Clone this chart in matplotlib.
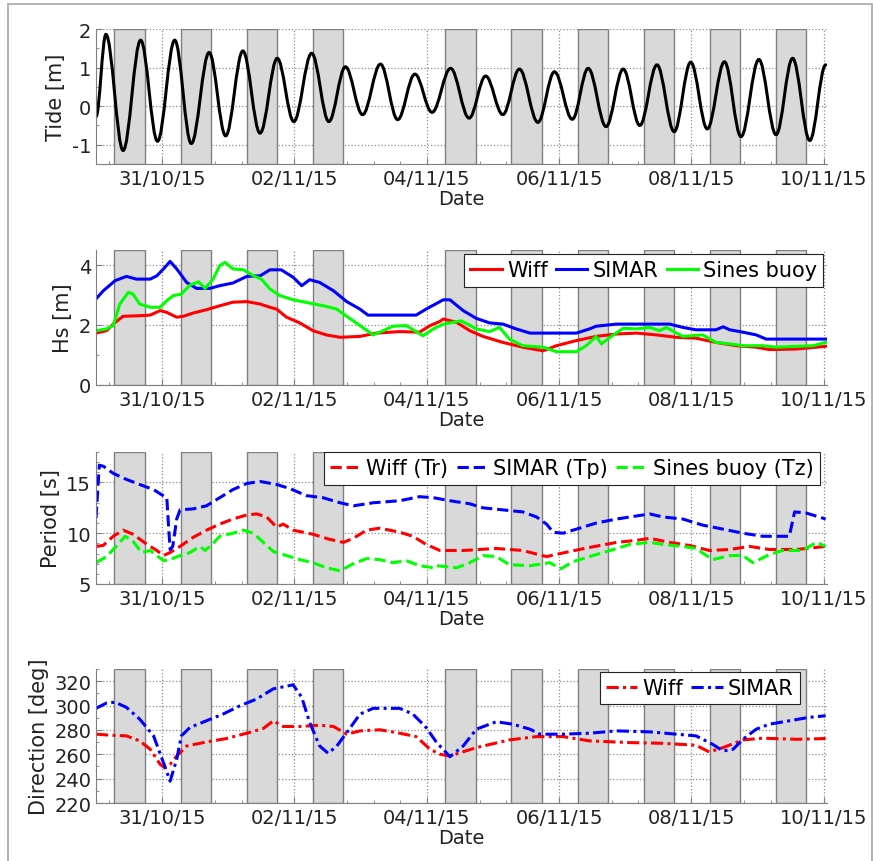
import numpy as np
import matplotlib
matplotlib.use("Agg")
import matplotlib.pyplot as plt
import matplotlib.dates as mdates
from matplotlib.path import Path
from matplotlib.patches import PathPatch, Rectangle
from datetime import datetime

# days since 30/10/2015 00:00
inicio = datetime(2015, 10, 30)

# daylight bands (no band on 03/11)
dias_banda = [0, 1, 2, 3, 5, 6, 7, 8, 9, 10]
amanecer_h = 6.7
atardecer_h = 17.75

# tide extrema (time [d], level [m])
t_marea = [0.00, 0.15, 0.41, 0.675, 0.93, 1.19, 1.44, 1.71, 1.96, 2.22, 2.48,
           2.74, 2.99, 3.26, 3.52, 3.77, 4.03, 4.30, 4.56, 4.82, 5.08, 5.36,
           5.64, 5.89, 6.15, 6.40, 6.68, 6.93, 7.20, 7.44, 7.71, 7.97, 8.22,
           8.48, 8.74, 8.99, 9.24, 9.50, 9.75, 10.02, 10.28, 10.53, 10.79, 11.03]
marea = [-0.27, 1.86, -1.15, 1.71, -0.91, 1.71, -0.97, 1.39, -0.77, 1.43, -0.70,
         1.24, -0.40, 1.37, -0.40, 1.02, -0.22, 1.09, -0.35, 0.83, -0.16, 0.98,
         -0.31, 0.78, -0.22, 0.96, -0.42, 0.89, -0.34, 0.98, -0.53, 0.96, -0.50,
         1.07, -0.66, 1.14, -0.59, 1.15, -0.79, 1.21, -0.74, 1.24, -0.89, 1.07]

# Hs
t_hs_wiff = [0.00, 0.16, 0.29, 0.41, 0.66, 0.82, 0.97, 1.07, 1.22, 1.32, 1.47,
             1.67, 1.87, 2.07, 2.28, 2.48, 2.63, 2.73, 2.88, 3.08, 3.28, 3.48,
             3.69, 3.99, 4.24, 4.59, 4.89, 5.05, 5.20, 5.25, 5.45, 5.65, 5.85,
             6.15, 6.45, 6.76, 6.96, 7.26, 7.56, 7.87, 8.17, 8.47, 8.77, 9.07,
             9.37, 9.68, 9.98, 10.18, 10.59, 11.03]
hs_wiff = [1.73, 1.81, 2.09, 2.29, 2.31, 2.33, 2.48, 2.42, 2.26, 2.29, 2.40,
           2.51, 2.64, 2.76, 2.78, 2.70, 2.59, 2.53, 2.26, 2.07, 1.81, 1.67,
           1.59, 1.62, 1.73, 1.78, 1.76, 1.98, 2.12, 2.20, 2.09, 1.81, 1.62,
           1.42, 1.26, 1.14, 1.31, 1.48, 1.62, 1.70, 1.73, 1.67, 1.59, 1.56,
           1.42, 1.31, 1.26, 1.18, 1.20, 1.29]

t_hs_simar = [0.00, 0.11, 0.29, 0.46, 0.61, 0.82, 0.92, 1.02, 1.12, 1.22, 1.37,
              1.52, 1.72, 1.87, 2.07, 2.28, 2.48, 2.63, 2.80, 2.98, 3.11, 3.23,
              3.38, 3.59, 3.79, 3.99, 4.11, 4.84, 4.99, 5.20, 5.25, 5.35, 5.55,
              5.75, 5.95, 6.15, 6.35, 6.56, 7.26, 7.46, 7.56, 7.87, 8.67, 8.87,
              9.07, 9.37, 9.48, 9.58, 9.78, 9.98, 10.13, 11.03]
hs_simar = [2.87, 3.14, 3.48, 3.62, 3.53, 3.53, 3.64, 3.87, 4.12, 3.87, 3.42,
            3.22, 3.22, 3.31, 3.40, 3.62, 3.64, 3.84, 3.84, 3.59, 3.31, 3.51,
            3.42, 3.14, 2.78, 2.53, 2.33, 2.33, 2.53, 2.78, 2.84, 2.84, 2.48,
            2.22, 2.07, 2.03, 1.87, 1.73, 1.73, 1.87, 1.96, 2.03, 2.03, 1.92,
            1.84, 1.84, 1.94, 1.84, 1.76, 1.67, 1.53, 1.53]

t_hs_boya = [0.00, 0.16, 0.26, 0.36, 0.49, 0.56, 0.66, 0.82, 0.97, 1.07, 1.17,
             1.29, 1.42, 1.55, 1.65, 1.77, 1.87, 1.95, 2.07, 2.23, 2.38, 2.50,
             2.63, 2.78, 2.98, 3.23, 3.48, 3.64, 3.79, 3.99, 4.19, 4.34, 4.49,
             4.69, 4.84, 4.94, 5.10, 5.25, 5.52, 5.75, 5.95, 6.10, 6.25, 6.45,
             6.76, 6.96, 7.26, 7.41, 7.56, 7.64, 7.77, 7.97, 8.17, 8.37, 8.52,
             8.62, 8.87, 9.17, 9.37, 9.58, 9.78, 10.08, 10.28, 10.59, 10.84, 11.03]
hs_boya = [1.81, 1.87, 1.98, 2.70, 3.09, 3.03, 2.70, 2.59, 2.59, 2.81, 2.98,
           3.03, 3.33, 3.44, 3.22, 3.53, 3.98, 4.09, 3.87, 3.84, 3.64, 3.53,
           3.20, 2.98, 2.84, 2.73, 2.62, 2.53, 2.29, 1.98, 1.67, 1.81, 1.96,
           1.98, 1.78, 1.64, 1.87, 2.03, 2.14, 1.87, 1.78, 1.92, 1.53, 1.31,
           1.26, 1.11, 1.11, 1.31, 1.62, 1.37, 1.59, 1.89, 1.87, 1.92, 1.81,
           1.92, 1.62, 1.67, 1.42, 1.37, 1.31, 1.31, 1.26, 1.29, 1.31, 1.42]

# Period
t_per_wiff = [0.00, 0.11, 0.26, 0.41, 0.56, 0.77, 0.92, 1.02, 1.12, 1.27, 1.47,
              1.67, 1.87, 2.07, 2.28, 2.43, 2.58, 2.73, 2.83, 2.98, 3.28, 3.53,
              3.74, 3.89, 4.09, 4.29, 4.59, 4.79, 4.99, 5.20, 5.55, 6.05, 6.45,
              6.81, 7.16, 7.46, 7.87, 8.17, 8.37, 8.67, 8.97, 9.27, 9.58, 9.88,
              10.18, 10.59, 11.03]
per_wiff = [8.7, 8.8, 9.7, 10.3, 9.9, 8.9, 8.3, 7.8, 8.1, 8.7, 9.6,
            10.3, 10.9, 11.4, 11.8, 11.9, 11.6, 10.6, 10.9, 10.3, 9.9, 9.4,
            9.1, 9.5, 10.3, 10.5, 10.1, 9.7, 8.9, 8.3, 8.3, 8.5, 8.3,
            7.7, 8.2, 8.6, 9.1, 9.3, 9.5, 9.1, 8.8, 8.3, 8.4, 8.7,
            8.4, 8.4, 8.7]

t_per_simar = [0.00, 0.05, 0.11, 0.26, 0.46, 0.66, 0.87, 0.99, 1.07, 1.09, 1.12,
               1.16, 1.22, 1.27, 1.47, 1.67, 1.87, 2.07, 2.28, 2.48, 2.73, 2.93,
               3.18, 3.43, 3.69, 3.89, 4.19, 4.59, 4.89, 5.10, 5.35, 5.65, 5.85,
               6.15, 6.45, 6.66, 6.81, 6.91, 7.06, 7.26, 7.56, 7.87, 8.17, 8.37,
               8.57, 8.87, 9.17, 9.48, 9.78, 10.08, 10.48, 10.56, 10.73, 11.03]
per_simar = [11.5, 16.7, 16.6, 15.9, 15.3, 14.8, 14.3, 13.8, 13.5, 11.4, 8.4,
             8.7, 11.4, 12.3, 12.4, 12.7, 13.5, 14.3, 14.9, 15.1, 14.8, 14.4,
             13.7, 13.5, 13.0, 12.7, 13.0, 13.2, 13.6, 13.5, 13.2, 12.9, 12.5,
             12.3, 12.1, 11.6, 10.9, 10.1, 10.0, 10.4, 11.0, 11.4, 11.7, 11.9,
             11.6, 11.4, 10.8, 10.4, 10.0, 9.7, 9.7, 12.1, 12.0, 11.4]

t_per_boya = [0.00, 0.16, 0.29, 0.44, 0.56, 0.69, 0.82, 0.92, 1.02, 1.12, 1.27,
              1.42, 1.57, 1.65, 1.77, 1.87, 2.07, 2.23, 2.38, 2.53, 2.68, 2.88,
              3.08, 3.28, 3.48, 3.69, 3.89, 4.09, 4.29, 4.49, 4.69, 4.89, 5.10,
              5.15, 5.45, 5.65, 5.85, 6.05, 6.25, 6.56, 6.86, 7.03, 7.21, 7.46,
              7.77, 8.07, 8.37, 8.57, 8.87, 9.07, 9.32, 9.58, 9.78, 9.93, 10.18,
              10.38, 10.68, 10.89, 11.03]
per_boya = [7.1, 7.7, 8.6, 9.7, 9.2, 8.1, 8.3, 7.8, 7.3, 7.4, 7.8,
            8.1, 8.7, 8.3, 9.0, 9.7, 10.0, 10.3, 10.0, 9.1, 8.2, 7.8,
            7.4, 7.1, 6.6, 6.3, 7.0, 7.5, 7.4, 7.1, 7.3, 6.8, 6.6,
            6.8, 6.6, 7.1, 7.8, 7.7, 6.9, 6.8, 7.1, 6.5, 7.2, 7.7,
            8.3, 8.9, 9.1, 8.9, 8.7, 8.5, 7.4, 7.8, 7.8, 7.1, 7.9,
            8.3, 8.3, 9.1, 8.7]

# Direction
t_dir_wiff = [0.00, 0.21, 0.46, 0.66, 0.82, 0.97, 1.04, 1.12, 1.22, 1.37, 1.67,
              1.97, 2.28, 2.53, 2.68, 2.83, 3.08, 3.38, 3.59, 3.79, 3.99, 4.29,
              4.59, 4.84, 5.05, 5.20, 5.35, 5.75, 6.25, 6.66, 7.06, 7.46, 8.07,
              8.57, 9.07, 9.27, 9.48, 9.78, 10.08, 10.59, 11.03]
dir_wiff = [276.5, 275.7, 275.1, 271.0, 264.1, 251.7, 248.9, 251.7, 258.6, 266.8, 270.1,
            272.9, 277.3, 281.2, 287.5, 282.8, 282.8, 283.9, 282.8, 276.5, 279.2, 280.1,
            277.3, 274.5, 264.1, 260.0, 258.6, 265.5, 271.8, 274.5, 274.5, 271.0, 269.6,
            269.0, 267.4, 261.9, 265.5, 271.8, 273.2, 272.3, 272.9]

t_dir_simar = [0.00, 0.16, 0.29, 0.46, 0.66, 0.87, 1.02, 1.12, 1.22, 1.29, 1.42,
               1.67, 1.92, 2.18, 2.43, 2.68, 2.98, 3.11, 3.23, 3.38, 3.51, 3.64,
               3.81, 3.99, 4.19, 4.59, 4.79, 4.99, 5.15, 5.35, 5.55, 5.75, 6.05,
               6.30, 6.56, 6.71, 7.06, 7.46, 7.87, 8.37, 8.77, 9.07, 9.32, 9.48,
               9.63, 9.78, 9.98, 10.18, 10.48, 10.78, 11.03]
dir_simar = [297.7, 302.1, 302.7, 298.5, 288.9, 275.1, 253.1, 237.9, 255.8, 275.1, 282.0,
             287.5, 293.0, 299.9, 305.4, 313.7, 317.0, 306.8, 286.1, 266.8, 260.8, 266.8,
             279.2, 293.0, 297.7, 297.7, 293.0, 282.0, 269.6, 258.0, 266.8, 280.6, 286.7,
             284.7, 280.6, 276.5, 276.5, 277.3, 279.2, 278.4, 276.5, 275.1, 268.2, 262.7,
             264.1, 272.3, 280.6, 284.7, 287.5, 290.3, 291.6]

etiquetas_fecha = ["31/10/15", "02/11/15", "04/11/15", "06/11/15", "08/11/15", "10/11/15"]

base = mdates.date2num(inicio)
def fx(t):
    return base + np.asarray(t, dtype=float)

plt.rcParams["font.family"] = ["DejaVu Sans"]
plt.rcParams["axes.unicode_minus"] = False
texto = "#222222"

fig = plt.figure(figsize=(8.73, 8.62), dpi=100)
izq, ancho = 96 / 873, 731 / 873
cajas = [(30, 165), (251, 386), (453, 585), (670, 804)]
axes = [fig.add_axes([izq, 1 - b / 862, ancho, (b - a) / 862]) for a, b in cajas]

ticks_fecha = [mdates.date2num(datetime.strptime(s, "%d/%m/%y")) for s in etiquetas_fecha]
menores = [base + v for v in np.arange(0.2, 11.05, 0.4) if abs(v - round(v)) > 0.01]

for ax in axes:
    ax.set_xlim(base, base + 11.05)
    for d in dias_banda:
        ax.axvspan(base + d + amanecer_h / 24, base + d + atardecer_h / 24,
                   facecolor="#d9d9d9", edgecolor="#808080", lw=1.0, zorder=1)
    ax.set_xticks(ticks_fecha)
    ax.set_xticklabels(etiquetas_fecha)
    ax.set_xticks(menores, minor=True)
    ax.set_axisbelow(True)
    ax.grid(True, which="major", ls=":", color="#8c8c8c", lw=0.9)
    for s in ["top", "right"]:
        ax.spines[s].set_visible(False)
    for s in ["left", "bottom"]:
        ax.spines[s].set_color("#7f7f7f")
        ax.spines[s].set_zorder(3)
    ax.tick_params(which="both", direction="in", colors="#7f7f7f", labelcolor=texto,
                   labelsize=14)
    ax.tick_params(which="major", length=4)
    ax.tick_params(which="minor", length=2.5)
    ax.set_xlabel("Date", fontsize=14, color=texto, labelpad=1)

# Tide: smooth curve through the extrema
ax = axes[0]
xs = fx(t_marea)
verts = [(xs[0], marea[0])]
codes = [Path.MOVETO]
k = 1 - 2 / np.pi
for i in range(len(xs) - 1):
    dt = xs[i + 1] - xs[i]
    verts += [(xs[i] + k * dt, marea[i]), (xs[i + 1] - k * dt, marea[i + 1]),
              (xs[i + 1], marea[i + 1])]
    codes += [Path.CURVE4] * 3
ax.add_patch(PathPatch(Path(verts, codes), fill=False, edgecolor="k", lw=2.2,
                       zorder=2, capstyle="round"))
ax.set_ylim(-1.5, 2)
ax.set_yticks([-1, 0, 1, 2])
ax.set_yticks([-1.5, -0.5, 0.5, 1.5], minor=True)
ax.set_ylabel("Tide [m]", fontsize=15, color=texto)

ley = dict(fontsize=15, fancybox=False, framealpha=1, edgecolor="#222222",
           borderaxespad=0, handlelength=1.5, handletextpad=0.25,
           columnspacing=0.4, borderpad=0.3, loc="upper right")

ax = axes[1]
ax.plot(fx(t_hs_wiff), hs_wiff, color="#ff0000", lw=2.2, label="Wiff", zorder=2)
ax.plot(fx(t_hs_simar), hs_simar, color="#0000ff", lw=2.2, label="SIMAR", zorder=2)
ax.plot(fx(t_hs_boya), hs_boya, color="#00ff00", lw=2.2, label="Sines buoy", zorder=2)
ax.set_ylim(0, 4.5)
ax.set_yticks([0, 2, 4])
ax.set_yticks([1, 3], minor=True)
ax.set_ylabel("Hs [m]", fontsize=15, color=texto)
l = ax.legend(ncol=3, bbox_to_anchor=(0.995, 0.97), **ley)
l.get_frame().set_linewidth(0.8)

ax = axes[2]
ax.plot(fx(t_per_wiff), per_wiff, color="#ff0000", lw=2.2, ls="--", label="Wiff (Tr)", zorder=2)
ax.plot(fx(t_per_simar), per_simar, color="#0000ff", lw=2.2, ls="--", label="SIMAR (Tp)", zorder=2)
ax.plot(fx(t_per_boya), per_boya, color="#00ff00", lw=2.2, ls="--", label="Sines buoy (Tz)", zorder=2)
ax.set_ylim(5, 18)
ax.set_yticks([5, 10, 15])
ax.set_yticks([6, 7, 8, 9, 11, 12, 13, 14, 16, 17, 18], minor=True)
ax.set_ylabel("Period [s]", fontsize=15, color=texto)
l = ax.legend(ncol=3, bbox_to_anchor=(0.99, 1.0), **ley)
l.get_frame().set_linewidth(0.8)

ax = axes[3]
rayapunto = (0, (4, 1.4, 1, 1.4))
ax.plot(fx(t_dir_wiff), dir_wiff, color="#ff0000", lw=2.2, ls=rayapunto, label="Wiff", zorder=2)
ax.plot(fx(t_dir_simar), dir_simar, color="#0000ff", lw=2.2, ls=rayapunto, label="SIMAR", zorder=2)
ax.set_ylim(220, 330)
ax.set_yticks(np.arange(220, 321, 20))
ax.set_yticks(np.arange(230, 331, 20), minor=True)
ax.set_ylabel("Direction [deg]", fontsize=15, color=texto)
l = ax.legend(ncol=2, bbox_to_anchor=(0.963, 0.978), **ley)
l.get_frame().set_linewidth(0.8)

# screenshot frame
fig.patches.append(Rectangle((8 / 873, -0.01), 864 / 873, 1.01 - 5 / 862,
                             transform=fig.transFigure, fill=False,
                             edgecolor="#a6a6a6", lw=1.2))

fig.savefig("out.png", dpi=100)
